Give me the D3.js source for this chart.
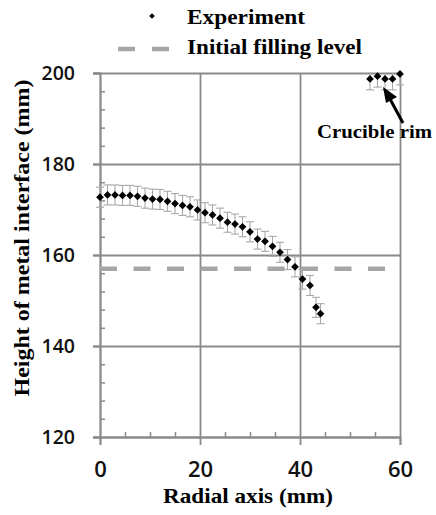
<!DOCTYPE html>
<html><head><meta charset="utf-8">
<script src="https://cdn.jsdelivr.net/npm/d3@7"></script>
<style>body{margin:0;background:#fff}svg{display:block}</style>
</head><body>
<svg id="c" width="436" height="515"></svg>
<script>
const radial = [0,1.5,3,4.5,6,7.5,9,10.5,12,13.5,15,16.5,18,19.5,21,22.5,24,25.5,27,28.5,30,31.5,33,34.5,36,37.5,39,40.5,42,43.2,44.1];
const heightVals = [172.7,173.2,173.2,173.1,173.1,172.9,172.5,172.3,172.2,171.8,171.3,170.9,170.6,169.9,169.3,168.8,168.1,167.2,166.8,166.2,165.1,163.5,163.0,161.9,160.6,159.0,157.4,154.7,153.3,148.5,147.1];
const radialRim = [54,55.5,57,58.5,60];
const heightRim = [198.7,199.3,198.7,198.7,199.8];
const errMain = 2.2;
const errRim = 2.4;
const initialLevel = 157;
const xTicks = [0,20,40,60];
const xMinor = [5,10,15,25,30,35,45,50,55];
const yTicks = [120,140,160,180,200];
const yMinor = [124,128,132,136,144,148,152,156,164,168,172,176,184,188,192,196];

const svg = d3.select("#c");
const x = d3.scaleLinear().domain([0,60]).range([100,400]);
const y = d3.scaleLinear().domain([120,200]).range([437,73]);
const grid = "#8a8a8a";
const serif = "'Liberation Serif','Times New Roman',serif";
const sans = "'Open Sans','Liberation Sans',sans-serif";

svg.append("defs").append("clipPath").attr("id","pa").append("rect")
  .attr("x",90).attr("y",y(200)).attr("width",320).attr("height",y(120)-y(200));

// gridlines
const gx = svg.append("g").attr("transform",`translate(0,${y(120)})`)
  .call(d3.axisBottom(x).tickValues(xTicks).tickSize(-(y(120)-y(200))).tickFormat(""));
const gy = svg.append("g").attr("transform",`translate(${x(60)},0)`)
  .call(d3.axisLeft(y).tickValues(yTicks).tickSize(x(60)-x(0)+7).tickFormat(""));
[gx,gy].forEach(g=>{g.select(".domain").remove();g.selectAll("line").attr("stroke",grid).attr("stroke-width",1.8);});

// x axis major ticks + labels
const ax = svg.append("g").attr("transform",`translate(0,${y(120)})`)
  .call(d3.axisBottom(x).tickValues(xTicks).tickSize(8).tickPadding(16));
ax.select(".domain").attr("stroke",grid).attr("stroke-width",1.8);
ax.selectAll("line").attr("stroke",grid).attr("stroke-width",1.8);
ax.selectAll("text").attr("font-family",sans).attr("font-weight",600).attr("font-size",22).attr("fill","#111");
const axm = svg.append("g").attr("transform",`translate(0,${y(120)})`)
  .call(d3.axisBottom(x).tickValues(xMinor).tickSize(-5).tickFormat(""));
axm.select(".domain").remove();
axm.selectAll("line").attr("stroke",grid).attr("stroke-width",1.5);

// y axis
const ay = svg.append("g").attr("transform",`translate(${x(0)},0)`)
  .call(d3.axisLeft(y).tickValues(yTicks).tickSize(7).tickPadding(18));
ay.select(".domain").attr("stroke",grid).attr("stroke-width",1.8);
ay.selectAll("line").attr("stroke",grid).attr("stroke-width",1.8);
ay.selectAll("text").attr("font-family",sans).attr("font-weight",600).attr("font-size",19.5).attr("fill","#111");
const aym = svg.append("g").attr("transform",`translate(${x(0)},0)`)
  .call(d3.axisLeft(y).tickValues(yMinor).tickSize(-5).tickFormat(""));
aym.select(".domain").remove();
aym.selectAll("line").attr("stroke",grid).attr("stroke-width",1.5);

// initial filling level
svg.append("line").attr("x1",x(0)).attr("x2",x(60)).attr("y1",y(initialLevel)).attr("y2",y(initialLevel))
  .attr("stroke","#a6a6a6").attr("stroke-width",4.5).attr("stroke-dasharray","17,16.5");

// error bars
const eb = svg.append("g").attr("clip-path","url(#pa)").attr("stroke","#a8a8a8").attr("stroke-width",1.1);
function bars(xs, ys, e){
  xs.forEach((xv,i)=>{
    const cx=x(xv), t=y(ys[i]+e), b=y(ys[i]-e);
    eb.append("line").attr("x1",cx).attr("x2",cx).attr("y1",t).attr("y2",b);
    eb.append("line").attr("x1",cx-4).attr("x2",cx+4).attr("y1",t).attr("y2",t);
    eb.append("line").attr("x1",cx-4).attr("x2",cx+4).attr("y1",b).attr("y2",b);
  });
}
bars(radial, heightVals, errMain);
bars(radialRim, heightRim, errRim);

// points (small rotated squares)
const sym = d3.symbol().type(d3.symbolSquare).size(30);
const pts = radial.map((r,i)=>[r,heightVals[i]]).concat(radialRim.map((r,i)=>[r,heightRim[i]]));
svg.append("g").selectAll("path").data(pts).join("path")
  .attr("d",sym).attr("transform",d=>`translate(${x(d[0])},${y(d[1])}) rotate(45)`).attr("fill","#000");

// legend
svg.append("path").attr("d",d3.symbol().type(d3.symbolSquare).size(16)).attr("transform","translate(152,16) rotate(45)").attr("fill","#000");
svg.append("text").attr("x",187).attr("y",24).attr("font-family",serif).attr("font-weight","bold").attr("font-size",21)
  .attr("textLength",118).attr("lengthAdjust","spacingAndGlyphs").text("Experiment");
svg.append("line").attr("x1",118).attr("x2",170).attr("y1",49).attr("y2",49)
  .attr("stroke","#a6a6a6").attr("stroke-width",4.5).attr("stroke-dasharray","17,17");
svg.append("text").attr("x",187).attr("y",54).attr("font-family",serif).attr("font-weight","bold").attr("font-size",21)
  .attr("textLength",175).attr("lengthAdjust","spacingAndGlyphs").text("Initial filling level");

// axis titles
svg.append("text").attr("x",248).attr("y",503).attr("text-anchor","middle").attr("font-family",serif).attr("font-weight","bold").attr("font-size",21)
  .attr("textLength",170).attr("lengthAdjust","spacingAndGlyphs").text("Radial axis (mm)");
svg.append("text").attr("transform","translate(29,238) rotate(-90)").attr("text-anchor","middle").attr("font-family",serif).attr("font-weight","bold").attr("font-size",21)
  .attr("textLength",317).attr("lengthAdjust","spacingAndGlyphs").text("Height of metal interface (mm)");

// annotation
svg.append("text").attr("x",317).attr("y",138).attr("font-family",serif).attr("font-weight","bold").attr("font-size",18)
  .attr("textLength",115).attr("lengthAdjust","spacingAndGlyphs").text("Crucible rim");
svg.append("line").attr("x1",403).attr("y1",123).attr("x2",390).attr("y2",99).attr("stroke","#000").attr("stroke-width",3);
svg.append("path").attr("d","M383,87 L397,97 L386,103 Z").attr("fill","#000");
</script>
</body></html>
